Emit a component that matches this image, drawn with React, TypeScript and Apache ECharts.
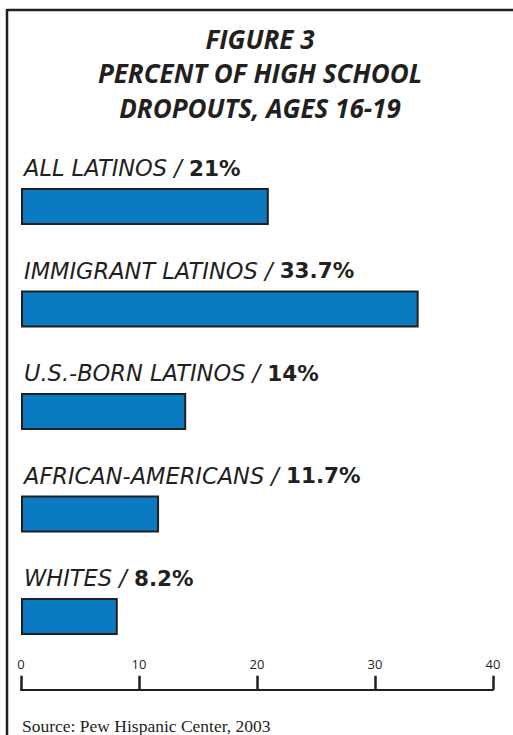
import React, { useEffect, useRef } from "react";
import * as echarts from "echarts";

const categories = ["ALL LATINOS", "IMMIGRANT LATINOS", "U.S.-BORN LATINOS", "AFRICAN-AMERICANS", "WHITES"];
const values = [21, 33.7, 14, 11.7, 8.2];
const axisTicks = [0, 10, 20, 30, 40];
const titleLines = ["FIGURE 3", "PERCENT OF HIGH SCHOOL", "DROPOUTS, AGES 16-19"];
const sourceText = "Source: Pew Hispanic Center, 2003";

const INK = "#231f20";

export default function App() {
  const ref = useRef<HTMLDivElement>(null);
  useEffect(() => {
    document.body.style.margin = "0";
    const chart = echarts.init(ref.current!, undefined, { renderer: "svg" });
    chart.setOption({
      animation: false,
      backgroundColor: "#ffffff",
      grid: { left: 21, right: 20, top: 155.25, bottom: 67.25, containLabel: false },
      xAxis: {
        type: "value",
        min: axisTicks[0],
        max: axisTicks[axisTicks.length - 1],
        interval: 10,
        offset: 22,
        position: "bottom",
        axisLine: { show: true, lineStyle: { color: INK, width: 2 } },
        axisTick: { show: true, inside: true, length: 14, lineStyle: { color: INK, width: 2.5 } },
        axisLabel: {
          show: true,
          inside: true,
          margin: 19,
          color: INK,
          fontSize: 13,
          fontFamily: "Open Sans",
          showMinLabel: true,
          showMaxLabel: true,
        },
        splitLine: { show: false },
      },
      yAxis: {
        type: "category",
        data: categories,
        inverse: true,
        axisLine: { show: false },
        axisTick: { show: false },
        axisLabel: { show: false },
      },
      series: [
        {
          type: "bar",
          data: values,
          barWidth: 37,
          itemStyle: { color: "#0a7bc1", borderColor: INK, borderWidth: 2 },
          label: {
            show: true,
            position: [3, -7],
            align: "left",
            verticalAlign: "bottom",
            formatter: (p: any) => `{n|${categories[p.dataIndex]} / }{v|${p.value}%}`,
            rich: {
              n: { fontFamily: "DejaVu Sans", fontStyle: "italic", fontSize: 22.5, color: INK, lineHeight: 26 },
              v: { fontFamily: "DejaVu Sans", fontWeight: "bold", fontSize: 21.5, color: INK, lineHeight: 26 },
            },
          },
        },
      ],
      graphic: [
        { type: "line", shape: { x1: 7, y1: 10, x2: 513, y2: 10 }, style: { stroke: INK, lineWidth: 2.5 } },
        { type: "line", shape: { x1: 7, y1: 9, x2: 7, y2: 735 }, style: { stroke: INK, lineWidth: 2.5 } },
        ...titleLines.map((t, i) => ({
          type: "text",
          x: 260,
          y: 38.5 + i * 34.5,
          style: {
            text: t,
            fill: INK,
            font: "italic bold 26px 'Open Sans'",
            textAlign: "center",
            textVerticalAlign: "middle",
          },
        })),
        {
          type: "text",
          x: 22,
          y: 726,
          style: {
            text: sourceText,
            fill: INK,
            font: "17.5px 'Liberation Serif'",
            textAlign: "left",
            textVerticalAlign: "middle",
          },
        },
      ],
    });
    return () => chart.dispose();
  }, []);
  return <div ref={ref} style={{ width: 513, height: 735 }} />;
}
